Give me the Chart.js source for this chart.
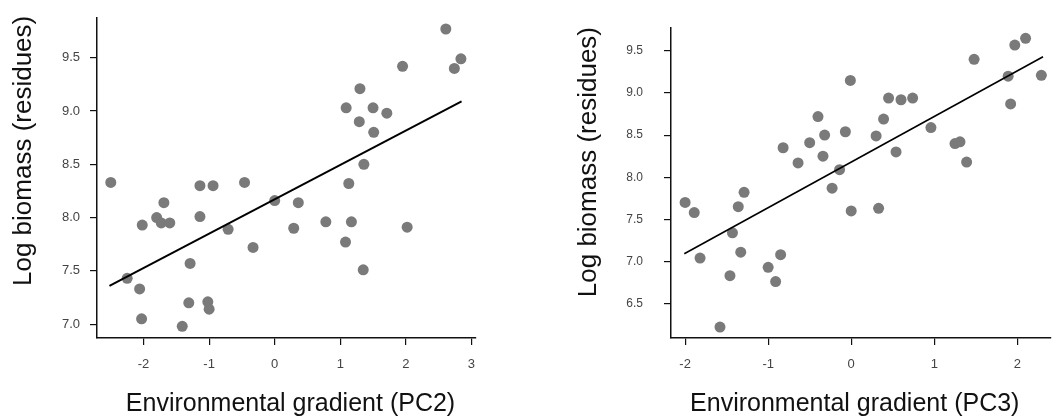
<!DOCTYPE html>
<html>
<head>
<meta charset="utf-8">
<script src="https://cdn.jsdelivr.net/npm/chart.js@4/dist/chart.umd.min.js"></script>
<style>
    html, body { margin: 0; padding: 0; background: #fff; }
    .panel { position: absolute; top: 0; width: 528px; height: 419px; }
</style>
</head>
<body>
<div class="panel" style="left:0"><canvas id="grafico_pc2"></canvas></div>
<div class="panel" style="left:528px"><canvas id="grafico_pc3"></canvas></div>
<script>
// ---- datos ----
const pc2X = [-2.50, -1.14, -0.94, -0.46, -1.69, -2.02, -1.80, -1.73, -1.60, -1.14,
              -0.71, -0.33, -1.29, -2.25, -2.06, -2.03, -1.31, -1.02, -1.00, -1.41,
              2.61, 2.84, 2.74, 1.95, 1.30, 1.09, 1.50, 1.71, 1.29, 1.51,
              1.36, 1.13, 0.00, 0.36, 0.29, 0.78, 1.17, 1.08, 2.02, 1.35];
const pc2Y = [8.33, 8.30, 8.30, 8.33, 8.14, 7.93, 8.00, 7.95, 7.95, 8.01,
              7.89, 7.72, 7.57, 7.43, 7.33, 7.05, 7.20, 7.21, 7.14, 6.98,
              9.77, 9.49, 9.40, 9.42, 9.21, 9.03, 9.03, 8.98, 8.90, 8.80,
              8.50, 8.32, 8.16, 8.14, 7.90, 7.96, 7.96, 7.77, 7.91, 7.51];
const pc2LineX = [-2.52, 2.85];
const pc2LineY = [7.36, 9.09];

const pc3X = [-2.00, -1.89, -1.36, -1.29, -0.82, -0.64, -0.50, -0.40, -0.32, -0.34,
              -0.07, -0.01, 0.30, 0.39, 0.45, 0.60, 0.74, 0.54, 0.96, 1.25,
              1.31, 1.39, 1.48, 1.89, 1.92, 1.97, 2.10, 2.29, -0.14, -0.23,
              0.00, 0.33, -1.43, -1.33, -1.82, -1.46, -0.85, -1.00, -0.91, -1.58];
const pc3Y = [7.70, 7.58, 7.65, 7.82, 8.35, 8.17, 8.41, 8.72, 8.50, 8.25,
              8.54, 9.15, 8.49, 8.69, 8.94, 8.92, 8.94, 8.30, 8.59, 8.40,
              8.42, 8.18, 9.40, 9.20, 8.87, 9.57, 9.65, 9.21, 8.09, 7.87,
              7.60, 7.63, 7.34, 7.11, 7.04, 6.83, 7.08, 6.93, 6.76, 6.22];
const pc3LineX = [-2.01, 2.31];
const pc3LineY = [7.09, 9.43];

const pc2TicksX = [-2, -1, 0, 1, 2, 3];
const pc2TicksY = [7.0, 7.5, 8.0, 8.5, 9.0, 9.5];
const pc3TicksX = [-2, -1, 0, 1, 2];
const pc3TicksY = [6.5, 7.0, 7.5, 8.0, 8.5, 9.0, 9.5];

const tituloY = 'Log biomass (residues)';

const fuente = "'Liberation Sans', Arial, sans-serif";
const aPuntos = (xs, ys) => xs.map((x, i) => ({ x: x, y: ys[i] }));

// titulos de ejes dibujados a mano para poder moverlos como en la imagen
const titulosEjes = {
    id: 'titulosEjes',
    afterDraw(chart, args, o) {
        const { ctx, chartArea: ca } = chart;
        ctx.save();
        ctx.fillStyle = '#111';
        ctx.textAlign = 'center';
        ctx.textBaseline = 'middle';
        ctx.font = '25px ' + fuente;
        ctx.fillText(o.xTitle, (ca.left + ca.right) / 2 + o.dx, o.xTitleY);
        ctx.translate(o.yTitleX, (ca.top + ca.bottom) / 2 + o.dy);
        ctx.rotate(-Math.PI / 2);
        ctx.font = '26px ' + fuente;
        ctx.fillText(tituloY, 0, 0);
        ctx.restore();
    }
};

function crearGrafico(id, cfg) {
    new Chart(document.getElementById(id), {
        type: 'scatter',
        data: {
            datasets: [{
                data: aPuntos(cfg.lineX, cfg.lineY),
                showLine: true,
                borderColor: '#000',
                borderWidth: cfg.lineWidth,
                pointRadius: 0,
                order: 0
            }, {
                data: aPuntos(cfg.x, cfg.y),
                backgroundColor: '#7a7a7a',
                borderWidth: 0,
                pointRadius: 5.5,
                order: 1
            }]
        },
        plugins: [titulosEjes],
        options: {
            responsive: true,
            maintainAspectRatio: false,
            animation: false,
            layout: { padding: cfg.padding },
            plugins: {
                legend: { display: false },
                tooltip: { enabled: false },
                titulosEjes: cfg.titulos
            },
            scales: {
                x: {
                    min: cfg.xMin, max: cfg.xMax,
                    afterBuildTicks: s => { s.ticks = cfg.ticksX.map(v => ({ value: v })); },
                    afterFit: s => { s.height = 81; },
                    border: { display: true, color: '#111', width: 1.5 },
                    grid: { drawOnChartArea: false, drawTicks: true, tickLength: 7, color: '#111', lineWidth: 1.2 },
                    ticks: { padding: 12, color: '#444', font: { family: fuente, size: 13 },
                             callback: v => String(v) }
                },
                y: {
                    min: cfg.yMin, max: cfg.yMax,
                    afterBuildTicks: s => { s.ticks = cfg.ticksY.map(v => ({ value: v })); },
                    afterFit: s => { s.width = cfg.yWidth; },
                    border: { display: true, color: '#111', width: 1.5 },
                    grid: { drawOnChartArea: false, drawTicks: true, tickLength: 7, color: '#111', lineWidth: 1.2 },
                    ticks: { padding: cfg.yPad, color: '#444', font: { family: fuente, size: cfg.yFont },
                             callback: v => v.toFixed(1) }
                }
            }
        }
    });
}

document.addEventListener("DOMContentLoaded", () => {
    crearGrafico('grafico_pc2', {
        x: pc2X, y: pc2Y, lineX: pc2LineX, lineY: pc2LineY, lineWidth: 2,
        ticksX: pc2TicksX, ticksY: pc2TicksY,
        xMin: -2.71, xMax: 3.07, yMin: 6.87, yMax: 9.875,
        padding: { top: 10, left: 0, right: 52, bottom: 0 },
        yWidth: 97, yPad: 10, yFont: 13,
        titulos: { xTitle: 'Environmental gradient (PC2)', xTitleY: 404, dx: 4, yTitleX: 23.5, dy: -27 }
    });
    crearGrafico('grafico_pc3', {
        x: pc3X, y: pc3Y, lineX: pc3LineX, lineY: pc3LineY, lineWidth: 1.6,
        ticksX: pc3TicksX, ticksY: pc3TicksY,
        xMin: -2.17, xMax: 2.40, yMin: 6.09, yMax: 9.77,
        padding: { top: 10, left: 37, right: 0, bottom: 0 },
        yWidth: 106, yPad: 21, yFont: 12,
        titulos: { xTitle: 'Environmental gradient (PC3)', xTitleY: 404, dx: -6, yTitleX: 60.5, dy: -21 }
    });
});
</script>
</body>
</html>
